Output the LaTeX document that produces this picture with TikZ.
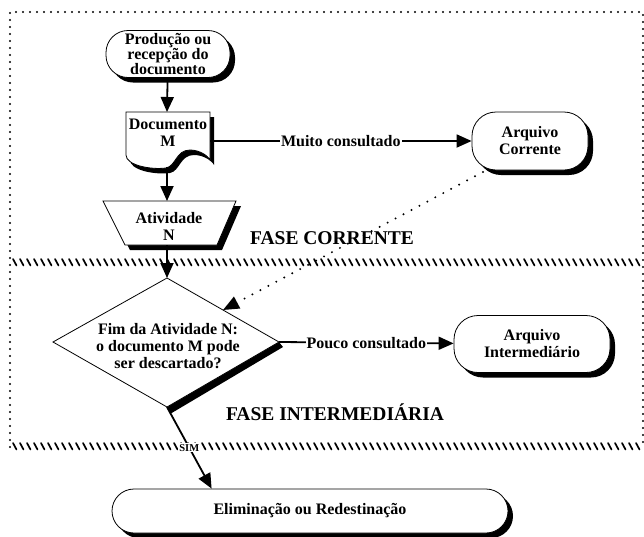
\documentclass[tikz,border=0pt]{standalone}
\usepackage{fontspec}
\setmainfont{Liberation Serif}
\usetikzlibrary{arrows.meta,shadows,calc}
\begin{document}
\begin{tikzpicture}[x=1pt,y=-1pt,
  every node/.style={font=\bfseries\fontsize{16}{17}\selectfont, align=center},
  stad/.style={draw=black, line width=0.8pt, fill=white, rounded corners=22pt, inner sep=0pt,
    drop shadow={shadow xshift=5pt, shadow yshift=-5pt, fill=black, opacity=1}},
  conn/.style={line width=1.8pt, -{Triangle[length=15pt,width=13pt]}},
  dotarrow/.style={line width=2.2pt, dash pattern=on 0pt off 9pt, line cap=round, -{Triangle[length=16pt,width=13pt]}},
  lbl/.style={fill=white, inner sep=1pt},
  dotbox/.style={line width=2.2pt, dash pattern=on 0pt off 7pt, line cap=round},
  hatch/.style={line width=1.7pt, line cap=round},
  outline/.style={draw=black, line width=0.8pt, fill=white},
  fase/.style={font=\bfseries\fontsize{19.5}{21}\selectfont}
]
\useasboundingbox (0,0) rectangle (644,536);

% phase frames
\draw[dotbox] (10,447) -- (10,12) -- (643,12) -- (643,447);
\foreach \x in {13,20,...,636} {
  \draw[hatch] (\x,259) -- ++(3.5,6.5);
  \draw[hatch] (\x,443) -- ++(3.5,6.5);
}

% Produção
\node[stad, minimum width=124pt, minimum height=47pt, font=\bfseries\fontsize{16}{15}\selectfont] (prod) at (168,54) {Produção ou\\recepção do\\documento};

% Documento (document shape)
\fill[black, shift={(4,5)}] (126,112) -- (126,155) .. controls (126,165) and (150,170) .. (166,168)
  .. controls (176,166) and (176,150) .. (190,150) .. controls (200,150) and (208,156) .. (210,160) -- (210,112) -- cycle;
\draw[outline] (126,112) -- (126,155) .. controls (126,165) and (150,170) .. (166,168)
  .. controls (176,166) and (176,150) .. (190,150) .. controls (200,150) and (208,156) .. (210,160) -- (210,112) -- cycle;
\node (doc) at (168,133) {Documento\\M};
\coordinate (docT) at (167,112);
\coordinate (docB) at (167,167);
\coordinate (docR) at (210,141);

% Atividade (trapezoid)
\fill[black, shift={(5,5)}] (103,201) -- (236,201) -- (217,245) -- (125,245) -- cycle;
\draw[outline] (103,201) -- (236,201) -- (217,245) -- (125,245) -- cycle;
\node (atv) at (169,226) {Atividade\\N};
\coordinate (atvT) at (167,201);
\coordinate (atvB) at (167,245);

% Decision diamond
\coordinate (dT) at (167,278);
\coordinate (dL) at (53,342);
\coordinate (dR) at (279,342);
\coordinate (dB) at (167,407);
\fill[black] (dR) -- (dB) -- ($(dB)+(3,7)$) -- ($(dR)+(4,5)$) -- cycle;
\draw[outline] (dT) -- (dR) -- (dB) -- (dL) -- cycle;
\node (dia) at (168,346) {Fim da Atividade N:\\o documento M pode\\ser descartado?};
\path (dT) -- (dR) coordinate[pos=0.5] (dTR);

% Archives
\node[stad, minimum width=116pt, minimum height=58pt, rounded corners=24pt] (arqc) at (530,141) {Arquivo\\Corrente};
\node[stad, minimum width=156pt, minimum height=57pt, rounded corners=24pt] (arqi) at (532,344) {Arquivo\\Intermediário};
\coordinate (arqcS) at (483,172);

% Final
\node[stad, minimum width=396pt, minimum height=44pt] (elim) at (310,511) {Eliminação ou Redestinação};

% Phase labels
\node[fase] (fc) at (332,238) {FASE CORRENTE};
\node[fase] (fi) at (335,412) {FASE INTERMEDIÁRIA};

% Connectors
\draw[conn] (prod) -- (docT);
\draw[conn] (docB) -- (atvT);
\draw[conn] (atvB) -- (dT);
\draw[conn] (docR) -- node[lbl] {Muito consultado} (arqc);
\draw[conn] (dR) -- node[lbl] {Pouco consultado} (arqi);
\draw[conn] (dB) -- node[lbl, font=\bfseries\fontsize{10.5}{11}\selectfont] {SIM} ($(elim.north west)+(100,0)$);
\draw[dotarrow] (arqcS) -- (dTR);
\end{tikzpicture}
\end{document}
